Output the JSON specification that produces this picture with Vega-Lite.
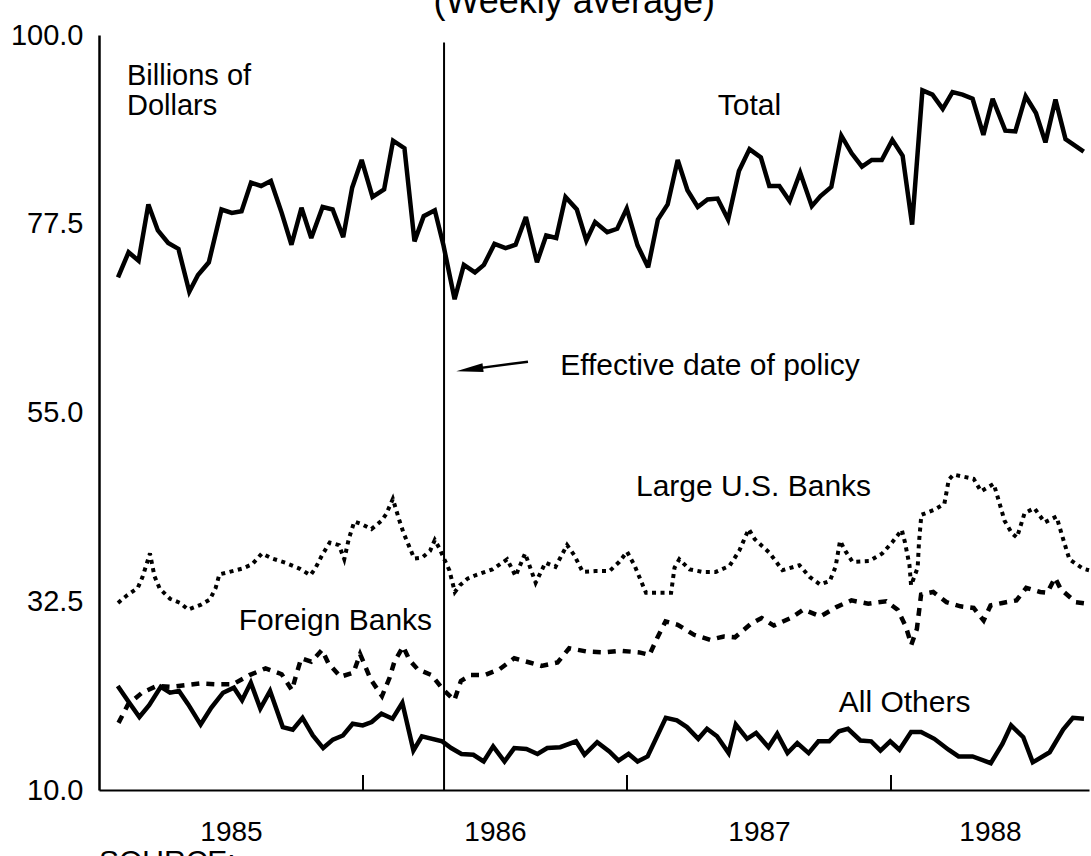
{
"$schema": "https://vega.github.io/schema/vega-lite/v6.json",
"width": 990, "height": 755,
"autosize": {"type": "none"},
"padding": {"left": 99, "top": 35, "right": 2, "bottom": 66},
"background": "white",
"config": {"view": {"stroke": null}, "font": "Liberation Sans", "axis": {"grid": false, "domainColor": "black", "labelColor": "black", "labelFont": "Liberation Sans", "ticks": false, "tickSize": 0, "labelFontSize": 28, "labelFlush": false, "labelOverlap": false}},
"datasets": {
"total": [
{"year":1985.072,"billions":71.1},{"year":1985.112,"billions":74.1},{"year":1985.150,"billions":73.1},{"year":1985.187,"billions":79.8},{"year":1985.223,"billions":76.7},{"year":1985.262,"billions":75.2},{"year":1985.301,"billions":74.5},{"year":1985.342,"billions":69.4},{"year":1985.375,"billions":71.4},{"year":1985.416,"billions":72.9},{"year":1985.464,"billions":79.2},{"year":1985.503,"billions":78.8},{"year":1985.540,"billions":79.0},{"year":1985.576,"billions":82.4},{"year":1985.614,"billions":82.0},{"year":1985.651,"billions":82.6},{"year":1985.692,"billions":78.8},{"year":1985.729,"billions":75.0},{"year":1985.767,"billions":79.4},{"year":1985.804,"billions":75.8},{"year":1985.847,"billions":79.5},{"year":1985.885,"billions":79.2},{"year":1985.925,"billions":75.9},{"year":1985.959,"billions":81.8},{"year":1985.995,"billions":85.1},{"year":1986.036,"billions":80.7},{"year":1986.080,"billions":81.6},{"year":1986.114,"billions":87.4},{"year":1986.157,"billions":86.5},{"year":1986.195,"billions":75.4},{"year":1986.230,"billions":78.4},{"year":1986.272,"billions":79.1},{"year":1986.305,"billions":74.9},{"year":1986.347,"billions":68.5},{"year":1986.382,"billions":72.6},{"year":1986.424,"billions":71.7},{"year":1986.458,"billions":72.6},{"year":1986.498,"billions":75.1},{"year":1986.540,"billions":74.6},{"year":1986.578,"billions":75.0},{"year":1986.617,"billions":78.3},{"year":1986.659,"billions":72.9},{"year":1986.694,"billions":76.1},{"year":1986.732,"billions":75.8},{"year":1986.767,"billions":80.7},{"year":1986.810,"billions":79.2},{"year":1986.846,"billions":75.5},{"year":1986.879,"billions":77.7},{"year":1986.925,"billions":76.5},{"year":1986.963,"billions":76.9},{"year":1986.999,"billions":79.3},{"year":1987.040,"billions":74.9},{"year":1987.080,"billions":72.3},{"year":1987.117,"billions":78.0},{"year":1987.154,"billions":79.8},{"year":1987.192,"billions":85.1},{"year":1987.229,"billions":81.5},{"year":1987.268,"billions":79.5},{"year":1987.305,"billions":80.4},{"year":1987.343,"billions":80.5},{"year":1987.383,"billions":78.0},{"year":1987.424,"billions":83.8},{"year":1987.464,"billions":86.4},{"year":1987.507,"billions":85.4},{"year":1987.539,"billions":82.0},{"year":1987.577,"billions":82.0},{"year":1987.616,"billions":80.2},{"year":1987.656,"billions":83.6},{"year":1987.700,"billions":79.6},{"year":1987.733,"billions":80.8},{"year":1987.774,"billions":81.9},{"year":1987.812,"billions":88.0},{"year":1987.851,"billions":85.9},{"year":1987.890,"billions":84.3},{"year":1987.927,"billions":85.1},{"year":1987.965,"billions":85.1},{"year":1988.005,"billions":87.5},{"year":1988.044,"billions":85.6},{"year":1988.080,"billions":77.4},{"year":1988.119,"billions":93.4},{"year":1988.157,"billions":92.9},{"year":1988.196,"billions":91.2},{"year":1988.233,"billions":93.2},{"year":1988.271,"billions":92.9},{"year":1988.309,"billions":92.4},{"year":1988.350,"billions":88.1},{"year":1988.385,"billions":92.4},{"year":1988.433,"billions":88.6},{"year":1988.471,"billions":88.5},{"year":1988.510,"billions":92.7},{"year":1988.549,"billions":90.7},{"year":1988.585,"billions":87.2},{"year":1988.623,"billions":92.3},{"year":1988.661,"billions":87.6},{"year":1988.730,"billions":86.1}
],
"large": [
{"year":1985.072,"billions":32.3},{"year":1985.102,"billions":33.1},{"year":1985.147,"billions":34.1},{"year":1985.165,"billions":35.4},{"year":1985.193,"billions":38.2},{"year":1985.210,"billions":35.5},{"year":1985.230,"billions":34.0},{"year":1985.269,"billions":32.8},{"year":1985.307,"billions":32.3},{"year":1985.338,"billions":31.5},{"year":1985.387,"billions":32.1},{"year":1985.420,"billions":32.7},{"year":1985.442,"billions":34.1},{"year":1985.456,"billions":35.7},{"year":1985.494,"billions":36.0},{"year":1985.543,"billions":36.4},{"year":1985.580,"billions":36.9},{"year":1985.617,"billions":38.2},{"year":1985.656,"billions":37.6},{"year":1985.705,"billions":37.1},{"year":1985.759,"billions":36.4},{"year":1985.801,"billions":35.6},{"year":1985.819,"billions":36.4},{"year":1985.845,"billions":38.0},{"year":1985.874,"billions":39.5},{"year":1985.909,"billions":39.2},{"year":1985.929,"billions":37.5},{"year":1985.946,"billions":39.9},{"year":1985.967,"billions":42.0},{"year":1985.994,"billions":41.7},{"year":1986.032,"billions":41.1},{"year":1986.070,"billions":42.1},{"year":1986.088,"billions":42.9},{"year":1986.113,"billions":44.7},{"year":1986.138,"billions":42.1},{"year":1986.154,"billions":40.6},{"year":1986.174,"billions":39.1},{"year":1986.194,"billions":37.6},{"year":1986.224,"billions":37.7},{"year":1986.254,"billions":38.5},{"year":1986.272,"billions":39.8},{"year":1986.288,"billions":38.9},{"year":1986.308,"billions":37.5},{"year":1986.327,"billions":36.2},{"year":1986.348,"billions":33.6},{"year":1986.367,"billions":34.4},{"year":1986.396,"billions":35.2},{"year":1986.426,"billions":35.6},{"year":1986.490,"billions":36.3},{"year":1986.546,"billions":37.5},{"year":1986.578,"billions":35.5},{"year":1986.614,"billions":38.2},{"year":1986.654,"billions":34.7},{"year":1986.691,"billions":37.1},{"year":1986.729,"billions":36.6},{"year":1986.773,"billions":39.2},{"year":1986.800,"billions":38.0},{"year":1986.832,"billions":36.0},{"year":1986.881,"billions":36.1},{"year":1986.934,"billions":36.1},{"year":1986.971,"billions":37.2},{"year":1987.000,"billions":38.4},{"year":1987.028,"billions":36.8},{"year":1987.052,"billions":35.0},{"year":1987.072,"billions":33.5},{"year":1987.117,"billions":33.5},{"year":1987.167,"billions":33.5},{"year":1987.180,"billions":36.5},{"year":1987.198,"billions":37.5},{"year":1987.237,"billions":36.3},{"year":1987.286,"billions":36.0},{"year":1987.336,"billions":36.0},{"year":1987.388,"billions":36.7},{"year":1987.425,"billions":38.5},{"year":1987.461,"billions":41.1},{"year":1987.484,"billions":39.9},{"year":1987.539,"billions":38.3},{"year":1987.589,"billions":36.2},{"year":1987.653,"billions":36.8},{"year":1987.692,"billions":35.4},{"year":1987.731,"billions":34.5},{"year":1987.768,"billions":34.9},{"year":1987.790,"billions":36.6},{"year":1987.807,"billions":39.7},{"year":1987.827,"billions":38.5},{"year":1987.854,"billions":37.2},{"year":1987.918,"billions":37.3},{"year":1987.967,"billions":38.2},{"year":1988.004,"billions":39.5},{"year":1988.041,"billions":41.0},{"year":1988.053,"billions":39.5},{"year":1988.070,"billions":36.8},{"year":1988.076,"billions":34.4},{"year":1988.101,"billions":36.5},{"year":1988.106,"billions":39.5},{"year":1988.115,"billions":42.8},{"year":1988.164,"billions":43.4},{"year":1988.202,"billions":44.1},{"year":1988.219,"billions":47.0},{"year":1988.237,"billions":47.6},{"year":1988.313,"billions":47.1},{"year":1988.341,"billions":45.6},{"year":1988.389,"billions":46.5},{"year":1988.410,"billions":44.3},{"year":1988.430,"billions":42.1},{"year":1988.458,"billions":40.6},{"year":1988.477,"billions":40.1},{"year":1988.506,"billions":43.0},{"year":1988.543,"billions":43.6},{"year":1988.582,"billions":41.9},{"year":1988.627,"billions":42.6},{"year":1988.639,"billions":41.3},{"year":1988.656,"billions":39.5},{"year":1988.676,"billions":37.5},{"year":1988.726,"billions":36.4},{"year":1988.750,"billions":36.2}
],
"foreign": [
{"year":1985.074,"billions":18.0},{"year":1985.110,"billions":20.2},{"year":1985.163,"billions":21.6},{"year":1985.219,"billions":22.4},{"year":1985.272,"billions":22.3},{"year":1985.382,"billions":22.7},{"year":1985.446,"billions":22.6},{"year":1985.507,"billions":22.6},{"year":1985.570,"billions":23.7},{"year":1985.631,"billions":24.5},{"year":1985.692,"billions":23.8},{"year":1985.731,"billions":21.9},{"year":1985.745,"billions":23.5},{"year":1985.766,"billions":25.7},{"year":1985.804,"billions":25.3},{"year":1985.845,"billions":26.7},{"year":1985.869,"billions":25.1},{"year":1985.915,"billions":23.5},{"year":1985.964,"billions":24.0},{"year":1985.989,"billions":26.2},{"year":1986.029,"billions":23.2},{"year":1986.072,"billions":21.2},{"year":1986.101,"billions":23.4},{"year":1986.119,"billions":25.3},{"year":1986.152,"billions":27.1},{"year":1986.176,"billions":25.5},{"year":1986.207,"billions":24.4},{"year":1986.260,"billions":23.7},{"year":1986.303,"billions":22.0},{"year":1986.346,"billions":20.7},{"year":1986.371,"billions":23.0},{"year":1986.408,"billions":23.7},{"year":1986.461,"billions":23.7},{"year":1986.517,"billions":24.4},{"year":1986.573,"billions":25.7},{"year":1986.631,"billions":25.2},{"year":1986.676,"billions":24.8},{"year":1986.737,"billions":25.2},{"year":1986.781,"billions":26.9},{"year":1986.849,"billions":26.5},{"year":1986.914,"billions":26.4},{"year":1986.978,"billions":26.6},{"year":1987.047,"billions":26.4},{"year":1987.085,"billions":26.1},{"year":1987.114,"billions":28.1},{"year":1987.146,"billions":30.1},{"year":1987.192,"billions":29.7},{"year":1987.254,"billions":28.5},{"year":1987.315,"billions":27.9},{"year":1987.367,"billions":28.3},{"year":1987.409,"billions":28.2},{"year":1987.469,"billions":29.8},{"year":1987.510,"billions":30.5},{"year":1987.556,"billions":29.6},{"year":1987.620,"billions":30.5},{"year":1987.668,"billions":31.5},{"year":1987.733,"billions":30.7},{"year":1987.793,"billions":31.8},{"year":1987.850,"billions":32.6},{"year":1987.914,"billions":32.2},{"year":1987.982,"billions":32.5},{"year":1988.025,"billions":31.5},{"year":1988.056,"billions":29.5},{"year":1988.077,"billions":27.3},{"year":1988.098,"billions":29.2},{"year":1988.114,"billions":33.3},{"year":1988.160,"billions":33.6},{"year":1988.210,"billions":32.4},{"year":1988.263,"billions":31.9},{"year":1988.313,"billions":31.7},{"year":1988.351,"billions":30.2},{"year":1988.377,"billions":32.0},{"year":1988.422,"billions":32.3},{"year":1988.475,"billions":32.6},{"year":1988.512,"billions":34.1},{"year":1988.565,"billions":33.6},{"year":1988.592,"billions":33.5},{"year":1988.621,"billions":35.3},{"year":1988.644,"billions":33.9},{"year":1988.699,"billions":32.4},{"year":1988.748,"billions":32.2}
],
"others": [
{"year":1985.071,"billions":22.4},{"year":1985.110,"billions":20.6},{"year":1985.153,"billions":18.7},{"year":1985.190,"billions":20.1},{"year":1985.234,"billions":22.3},{"year":1985.269,"billions":21.6},{"year":1985.303,"billions":21.8},{"year":1985.338,"billions":20.2},{"year":1985.385,"billions":17.8},{"year":1985.425,"billions":19.8},{"year":1985.470,"billions":21.6},{"year":1985.511,"billions":22.2},{"year":1985.542,"billions":20.7},{"year":1985.575,"billions":22.8},{"year":1985.611,"billions":19.7},{"year":1985.648,"billions":21.8},{"year":1985.696,"billions":17.5},{"year":1985.734,"billions":17.2},{"year":1985.771,"billions":18.6},{"year":1985.810,"billions":16.5},{"year":1985.849,"billions":15.0},{"year":1985.886,"billions":16.0},{"year":1985.924,"billions":16.5},{"year":1985.961,"billions":17.9},{"year":1985.999,"billions":17.7},{"year":1986.033,"billions":18.1},{"year":1986.070,"billions":19.1},{"year":1986.112,"billions":18.5},{"year":1986.149,"billions":20.4},{"year":1986.191,"billions":14.7},{"year":1986.223,"billions":16.4},{"year":1986.300,"billions":15.8},{"year":1986.334,"billions":15.0},{"year":1986.373,"billions":14.3},{"year":1986.418,"billions":14.2},{"year":1986.457,"billions":13.4},{"year":1986.493,"billions":15.2},{"year":1986.536,"billions":13.4},{"year":1986.573,"billions":15.0},{"year":1986.619,"billions":14.9},{"year":1986.661,"billions":14.3},{"year":1986.698,"billions":15.0},{"year":1986.747,"billions":15.1},{"year":1986.807,"billions":15.8},{"year":1986.839,"billions":14.2},{"year":1986.887,"billions":15.7},{"year":1986.933,"billions":14.6},{"year":1986.968,"billions":13.5},{"year":1987.006,"billions":14.3},{"year":1987.040,"billions":13.4},{"year":1987.078,"billions":14.0},{"year":1987.147,"billions":18.6},{"year":1987.189,"billions":18.3},{"year":1987.227,"billions":17.5},{"year":1987.270,"billions":16.1},{"year":1987.303,"billions":17.3},{"year":1987.341,"billions":16.4},{"year":1987.385,"billions":14.4},{"year":1987.412,"billions":17.8},{"year":1987.455,"billions":16.1},{"year":1987.489,"billions":16.8},{"year":1987.536,"billions":15.1},{"year":1987.569,"billions":16.7},{"year":1987.608,"billions":14.4},{"year":1987.645,"billions":15.6},{"year":1987.688,"billions":14.4},{"year":1987.725,"billions":15.8},{"year":1987.766,"billions":15.8},{"year":1987.803,"billions":17.0},{"year":1987.837,"billions":17.3},{"year":1987.884,"billions":15.9},{"year":1987.925,"billions":15.8},{"year":1987.960,"billions":14.7},{"year":1987.997,"billions":15.8},{"year":1988.032,"billions":14.8},{"year":1988.076,"billions":16.9},{"year":1988.114,"billions":16.9},{"year":1988.164,"billions":16.1},{"year":1988.218,"billions":14.8},{"year":1988.256,"billions":14.0},{"year":1988.309,"billions":14.0},{"year":1988.378,"billions":13.2},{"year":1988.422,"billions":15.5},{"year":1988.455,"billions":17.7},{"year":1988.501,"billions":16.3},{"year":1988.537,"billions":13.3},{"year":1988.601,"billions":14.5},{"year":1988.652,"billions":17.2},{"year":1988.689,"billions":18.6},{"year":1988.731,"billions":18.5}
],
"boundaries": [{"year":1986},{"year":1987},{"year":1988}]
},
"layer": [
{"data": {"name": "total"},
 "mark": {"type": "line", "stroke": "black", "strokeWidth": 4.5, "strokeJoin": "miter", "strokeMiterLimit": 3},
 "encoding": {
  "x": {"field": "year", "type": "quantitative", "title": null, "scale": {"domain": [1985, 1988.75], "nice": false, "zero": false},
        "axis": {"values": [1985.5, 1986.5, 1987.5, 1988.375], "labelExpr": "'' + floor(datum.value)", "title": null, "domainWidth": 2, "labelPadding": 28, "labelBaseline": "top"}},
  "y": {"field": "billions", "type": "quantitative", "title": null, "scale": {"domain": [10, 100], "nice": false, "zero": false},
        "axis": {"values": [10, 32.5, 55, 77.5, 100], "format": ".1f", "title": null, "domainWidth": 2.5, "labelPadding": 16, "labelFontSize": 29}}
 }},
{"data": {"name": "others"},
 "mark": {"type": "line", "stroke": "black", "strokeWidth": 4.5, "strokeJoin": "miter", "strokeMiterLimit": 3},
 "encoding": {
  "x": {"field": "year", "type": "quantitative", "title": null},
  "y": {"field": "billions", "type": "quantitative", "title": null}
 }},
{"data": {"name": "large"},
 "mark": {"type": "line", "stroke": "black", "strokeWidth": 4, "strokeDash": [4, 4.5]},
 "encoding": {
  "x": {"field": "year", "type": "quantitative", "title": null},
  "y": {"field": "billions", "type": "quantitative", "title": null}
 }},
{"data": {"name": "foreign"},
 "mark": {"type": "line", "stroke": "black", "strokeWidth": 4.5, "strokeDash": [8, 7]},
 "encoding": {
  "x": {"field": "year", "type": "quantitative", "title": null},
  "y": {"field": "billions", "type": "quantitative", "title": null}
 }},
{"data": {"name": "boundaries"},
 "mark": {"type": "rule", "stroke": "black", "strokeWidth": 2},
 "encoding": {
  "x": {"field": "year", "type": "quantitative", "title": null},
  "y": {"datum": 10, "type": "quantitative", "title": null},
  "y2": {"datum": 11.8}
 }},
{"data": {"values": [{}]},
 "mark": {"type": "rule", "stroke": "black", "strokeWidth": 2},
 "encoding": {
  "x": {"datum": 1986.307, "type": "quantitative", "title": null},
  "y": {"datum": 10, "type": "quantitative", "title": null},
  "y2": {"datum": 99.1}
 }},
{"data": {"values": [{}]},
 "mark": {"type": "rule", "stroke": "black", "strokeWidth": 2.5},
 "encoding": {
  "x": {"datum": 1986.625, "type": "quantitative", "title": null},
  "x2": {"datum": 1986.404},
  "y": {"datum": 61.06, "type": "quantitative", "title": null},
  "y2": {"datum": 60.14}
 }},
{"data": {"values": [{}]},
 "mark": {"type": "point", "shape": "M -1 0 L 1 -0.32 L 1 0.32 Z", "size": 729, "filled": true, "fill": "black", "stroke": null, "opacity": 1, "angle": -7.5},
 "encoding": {
  "x": {"datum": 1986.404, "type": "quantitative", "title": null},
  "y": {"datum": 60.14, "type": "quantitative", "title": null}
 }},
{"data": {"values": [{}]},
 "mark": {"type": "text", "text": ["Billions of", "Dollars"], "lineHeight": 30, "align": "left", "baseline": "alphabetic", "fontSize": 29, "color": "black"},
 "encoding": {
  "x": {"datum": 1985.106, "type": "quantitative", "title": null},
  "y": {"datum": 94.0, "type": "quantitative", "title": null}
 }},
{"data": {"values": [{}]},
 "mark": {"type": "text", "text": "Total", "align": "left", "baseline": "alphabetic", "fontSize": 30, "color": "black"},
 "encoding": {
  "x": {"datum": 1987.344, "type": "quantitative", "title": null},
  "y": {"datum": 90.5, "type": "quantitative", "title": null}
 }},
{"data": {"values": [{}]},
 "mark": {"type": "text", "text": "Effective date of policy", "align": "left", "baseline": "alphabetic", "fontSize": 30, "color": "black"},
 "encoding": {
  "x": {"datum": 1986.747, "type": "quantitative", "title": null},
  "y": {"datum": 59.5, "type": "quantitative", "title": null}
 }},
{"data": {"values": [{}]},
 "mark": {"type": "text", "text": "Large U.S. Banks", "align": "left", "baseline": "alphabetic", "fontSize": 30, "color": "black"},
 "encoding": {
  "x": {"datum": 1987.034, "type": "quantitative", "title": null},
  "y": {"datum": 45.1, "type": "quantitative", "title": null}
 }},
{"data": {"values": [{}]},
 "mark": {"type": "text", "text": "Foreign Banks", "align": "left", "baseline": "alphabetic", "fontSize": 30, "color": "black"},
 "encoding": {
  "x": {"datum": 1985.529, "type": "quantitative", "title": null},
  "y": {"datum": 29.1, "type": "quantitative", "title": null}
 }},
{"data": {"values": [{}]},
 "mark": {"type": "text", "text": "All Others", "align": "left", "baseline": "alphabetic", "fontSize": 30, "color": "black"},
 "encoding": {
  "x": {"datum": 1987.802, "type": "quantitative", "title": null},
  "y": {"datum": 19.3, "type": "quantitative", "title": null}
 }},
{"data": {"values": [{}]},
 "mark": {"type": "text", "text": "(Weekly average)", "align": "left", "baseline": "alphabetic", "fontSize": 36, "color": "black"},
 "encoding": {
  "x": {"datum": 1986.267, "type": "quantitative", "title": null},
  "y": {"datum": 102.6, "type": "quantitative", "title": null}
 }},
{"data": {"values": [{}]},
 "mark": {"type": "text", "text": "SOURCE:", "align": "left", "baseline": "alphabetic", "fontSize": 30, "color": "black"},
 "encoding": {
  "x": {"datum": 1985.0, "type": "quantitative", "title": null},
  "y": {"datum": 0.3, "type": "quantitative", "title": null}
 }}
]
}
